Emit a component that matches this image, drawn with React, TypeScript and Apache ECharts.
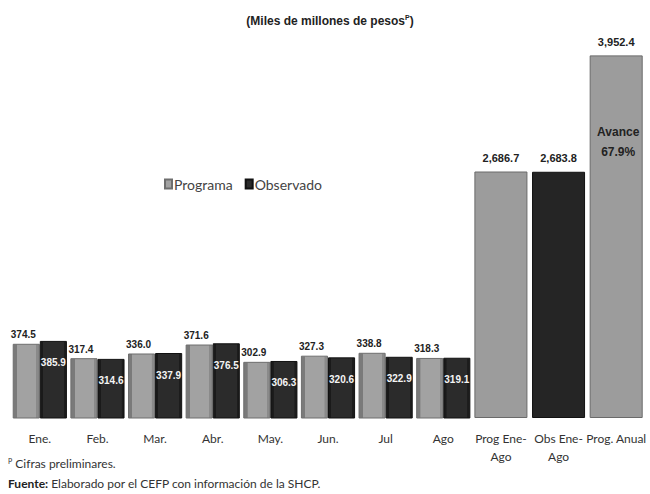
import React, { useEffect, useRef } from "react";
import * as echarts from "echarts";

const categories = ["Ene.", "Feb.", "Mar.", "Abr.", "May.", "Jun.", "Jul", "Ago", "Prog Ene-\nAgo", "Obs Ene-\nAgo", "Prog. Anual"];
const programa = [374.5, 317.4, 336.0, 371.6, 302.9, 327.3, 338.8, 318.3, null, null, null];
const observado = [385.9, 314.6, 337.9, 376.5, 306.3, 320.6, 322.9, 319.1, null, null, null];
const acumulados = [null, null, null, null, null, null, null, null, 2686.7, 2683.8, 3952.4];
const acumuladoTipo = ["", "", "", "", "", "", "", "", "prog", "obs", "prog"];

const GRAY = "#9c9c9c";
const DARK = "#252525";

const grayGrad = {
  type: "linear", x: 0, y: 0, x2: 1, y2: 0,
  colorStops: [
    { offset: 0, color: "#7a7a7a" },
    { offset: 0.14, color: "#7a7a7a" },
    { offset: 0.15, color: "#a2a2a2" },
    { offset: 0.88, color: "#a2a2a2" },
    { offset: 0.89, color: "#8a8a8a" },
    { offset: 1, color: "#8a8a8a" },
  ],
};
const darkGrad = {
  type: "linear", x: 0, y: 0, x2: 1, y2: 0,
  colorStops: [
    { offset: 0, color: "#1a1a1a" },
    { offset: 0.1, color: "#1a1a1a" },
    { offset: 0.11, color: "#2b2b2b" },
    { offset: 0.9, color: "#2b2b2b" },
    { offset: 0.91, color: "#1c1c1c" },
    { offset: 1, color: "#1c1c1c" },
  ],
};

const fmt = (v: number) =>
  v.toLocaleString("en-US", { minimumFractionDigits: 1, maximumFractionDigits: 1 });

const NUM_FONT = "'Liberation Sans', Arial, sans-serif";
const TXT_FONT = "Lato, 'Open Sans', sans-serif";

export default function App() {
  const ref = useRef<HTMLDivElement>(null);
  useEffect(() => {
    if (!ref.current) return;
    const chart = echarts.init(ref.current, null, { renderer: "svg" });
    const obsTotal = acumulados[9] as number;
    const anual = acumulados[10] as number;
    const avance = ((obsTotal / anual) * 100).toFixed(1);

    chart.setOption({
      animation: false,
      backgroundColor: "#ffffff",
      title: {
        text: "(Miles de millones de pesos{sup|P})",
        left: 325,
        top: 9,
        textAlign: "center",
        textStyle: {
          fontSize: 12,
          fontWeight: "bold",
          color: "#222",
          fontFamily: NUM_FONT,
          rich: {
            sup: { fontSize: 7, fontWeight: "bold", color: "#222", verticalAlign: "top", padding: [0, 0, 6, 0] },
          },
        },
      },
      legend: {
        left: 159,
        top: 172,
        itemWidth: 7,
        itemHeight: 9,
        itemGap: 12,
        icon: "rect",
        textStyle: { fontSize: 14, color: "#444", fontFamily: TXT_FONT, padding: [0, 0, 0, -3] },
        data: ["Programa", "Observado"],
      },
      grid: { left: 11, right: 5, top: 40, bottom: 76 },
      xAxis: [
        {
          type: "category",
          data: categories,
          axisLine: { show: false },
          axisTick: { show: false },
          axisLabel: {
            interval: 0,
            margin: 11,
            fontSize: 12,
            color: "#333",
            fontFamily: TXT_FONT,
            lineHeight: 18,
          },
        },
        { type: "category", data: categories, show: false },
      ],
      yAxis: [
        { type: "value", min: 80, max: 1580, show: false, splitLine: { show: false } },
        { type: "value", min: 0, max: 4120, show: false, splitLine: { show: false } },
      ],
      series: [
        {
          name: "Programa",
          type: "bar",
          xAxisIndex: 0,
          yAxisIndex: 0,
          data: programa,
          barGap: "0%",
          barCategoryGap: "6%",
          itemStyle: { color: grayGrad, borderColor: "#6e6e6e", borderWidth: 1 },
          label: {
            show: true,
            position: "top",
            distance: 4,
            offset: [-3, 0],
            fontSize: 10,
            fontWeight: "bold",
            color: "#222",
            fontFamily: NUM_FONT,
            formatter: (p: any) => fmt(p.value),
          },
        },
        {
          name: "Observado",
          type: "bar",
          xAxisIndex: 0,
          yAxisIndex: 0,
          data: observado,
          barGap: "0%",
          barCategoryGap: "6%",
          itemStyle: { color: darkGrad, borderColor: "#111", borderWidth: 1 },
          label: {
            show: true,
            position: "insideTop",
            distance: 17,
            fontSize: 10,
            fontWeight: "bold",
            color: "#f4f4f4",
            fontFamily: NUM_FONT,
            formatter: (p: any) => fmt(p.value),
          },
        },
        {
          name: "Acumulado",
          type: "bar",
          xAxisIndex: 1,
          yAxisIndex: 1,
          barCategoryGap: "8%",
          data: acumulados.map((v, i) => ({
            value: v,
            itemStyle:
              acumuladoTipo[i] === "obs"
                ? { color: DARK, borderColor: "#111", borderWidth: 1 }
                : { color: GRAY, borderColor: "#6a6a6a", borderWidth: 1 },
          })),
          label: {
            show: true,
            position: "top",
            distance: 8,
            fontSize: 11,
            fontWeight: "bold",
            color: "#222",
            fontFamily: NUM_FONT,
            formatter: (p: any) => (p.value == null ? "" : fmt(p.value)),
          },
          markPoint: {
            symbol: "rect",
            symbolSize: 1,
            itemStyle: { color: "rgba(0,0,0,0)" },
            data: [{ type: "max", name: "Avance" }],
            label: {
              show: true,
              position: "inside",
              offset: [2, 87],
              fontSize: 12,
              lineHeight: 20,
              fontWeight: "bold",
              color: "#222",
              fontFamily: NUM_FONT,
              formatter: () => `Avance\n${avance}%`,
            },
          },
        },
      ],
      graphic: [
        {
          type: "text",
          left: 8,
          top: 457,
          style: {
            text: "{sup|P} Cifras preliminares.",
            fontSize: 12,
            fill: "#333",
            fontFamily: TXT_FONT,
            rich: { sup: { fontSize: 7, fill: "#333", verticalAlign: "top", fontFamily: TXT_FONT } },
          },
        },
        {
          type: "text",
          left: 8,
          top: 477,
          style: {
            text: "{b|Fuente:} Elaborado por el CEFP con información de la SHCP.",
            fontSize: 12,
            fill: "#333",
            fontFamily: TXT_FONT,
            rich: { b: { fontSize: 12, fontWeight: "bold", fill: "#222", fontFamily: TXT_FONT } },
          },
        },
      ],
    });
    return () => chart.dispose();
  }, []);
  return (
    <div
      ref={ref}
      style={{ position: "fixed", left: 0, top: 0, width: 650, height: 494 }}
    />
  );
}
